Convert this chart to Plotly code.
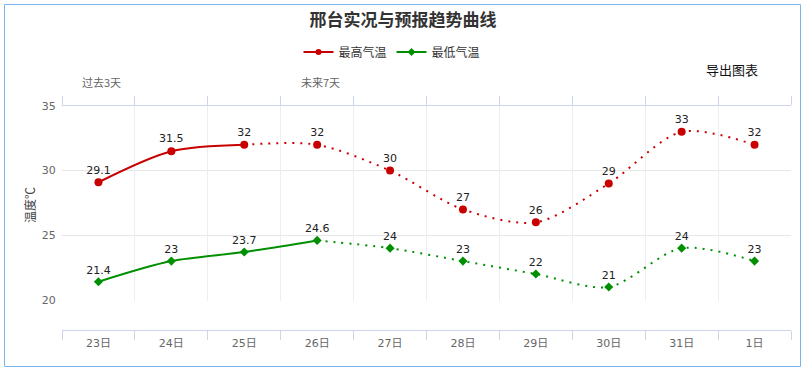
import plotly.graph_objects as go

categories = ["23日", "24日", "25日", "26日", "27日", "28日", "29日", "30日", "31日", "1日"]
high_temp = [29.1, 31.5, 32, 32, 30, 27, 26, 29, 33, 32]
low_temp = [21.4, 23, 23.7, 24.6, 24, 23, 22, 21, 24, 23]
high_obs_count = 3   # 23-25 observed (solid)
low_obs_count = 4    # 23-26 solid
period_labels = ["过去3天", "未来7天"]
period_at = ["23日", "26日"]

RED = "#c80000"
GREEN = "#008f00"
W, H = 806, 370
L, R, T, B = 62, 15, 106, 40
PW, PH = W - L - R, H - T - B

def px(x):
    return (x - L) / PW

def py(y):
    return (H - B - y) / PH

FONT = "DejaVu Sans, Noto Sans CJK SC, sans-serif"
CJK = "Noto Sans CJK SC, sans-serif"
SM = 0.85

fig = go.Figure()

# solid observed parts and dotted forecast parts
fig.add_trace(go.Scatter(x=categories[:high_obs_count], y=high_temp[:high_obs_count],
                         mode="lines", line=dict(color=RED, width=2, shape="spline", smoothing=SM),
                         showlegend=False, hoverinfo="skip"))
fig.add_trace(go.Scatter(x=categories[high_obs_count - 1:], y=high_temp[high_obs_count - 1:],
                         mode="lines", line=dict(color=RED, width=2, shape="spline", smoothing=SM, dash="2px,6px"),
                         showlegend=False, hoverinfo="skip"))
fig.add_trace(go.Scatter(x=categories[:low_obs_count], y=low_temp[:low_obs_count],
                         mode="lines", line=dict(color=GREEN, width=2, shape="spline", smoothing=SM),
                         showlegend=False, hoverinfo="skip"))
fig.add_trace(go.Scatter(x=categories[low_obs_count - 1:], y=low_temp[low_obs_count - 1:],
                         mode="lines", line=dict(color=GREEN, width=2, shape="spline", smoothing=SM, dash="2px,6px"),
                         showlegend=False, hoverinfo="skip"))
# markers + labels
fig.add_trace(go.Scatter(x=categories, y=high_temp, mode="markers+text", text=[str(v) for v in high_temp],
                         textposition="top center", textfont=dict(size=11, color="#222"),
                         marker=dict(color=RED, size=8, symbol="circle"), showlegend=False))
fig.add_trace(go.Scatter(x=categories, y=low_temp, mode="markers+text", text=[str(v) for v in low_temp],
                         textposition="top center", textfont=dict(size=11, color="#222"),
                         marker=dict(color=GREEN, size=7, symbol="diamond"), showlegend=False))
# legend entries
fig.add_trace(go.Scatter(x=[None], y=[None], name="最高气温", mode="lines+markers",
                         line=dict(color=RED, width=2), marker=dict(color=RED, size=6, symbol="circle")))
fig.add_trace(go.Scatter(x=[None], y=[None], name="最低气温", mode="lines+markers",
                         line=dict(color=GREEN, width=2), marker=dict(color=GREEN, size=6, symbol="diamond")))
# invisible trace for top axis
fig.add_trace(go.Scatter(x=categories, y=high_temp, xaxis="x2", mode="markers",
                         marker=dict(opacity=0), showlegend=False, hoverinfo="skip"))

annotations = [
    dict(text="温度℃", x=px(29), y=py(205), xref="paper", yref="paper", showarrow=False,
         xanchor="center", yanchor="middle",
         textangle=-90, font=dict(size=12, color="#444", family=CJK)),
    dict(text="导出图表", x=px(732), y=py(70), xref="paper", yref="paper", showarrow=False,
         xanchor="center", yanchor="middle",
         font=dict(size=13, color="#111", family=CJK)),
]
for lab, cat in zip(period_labels, period_at):
    annotations.append(dict(text=lab, x=cat, y=py(82), xref="x", yref="paper", showarrow=False,
                            xanchor="center", yanchor="middle", xshift=3,
                            font=dict(size=11, color="#666", family=CJK)))

fig.update_layout(
    width=W, height=H,
    margin=dict(l=L, r=R, t=T, b=B, autoexpand=False),
    paper_bgcolor="white", plot_bgcolor="white",
    font=dict(family=FONT, color="#666", size=11),
    title=dict(text="<b>邢台实况与预报趋势曲线</b>", x=403 / W, xanchor="center", xref="container",
               y=1 - 20 / H, yanchor="middle", yref="container", font=dict(size=17, color="#333", family=CJK)),
    legend=dict(orientation="h", xref="container", yref="container", x=392 / W, xanchor="center",
                y=1 - 52 / H, yanchor="middle",
                font=dict(size=12, color="#333", family=CJK), itemwidth=30, tracegroupgap=0),
    xaxis=dict(type="category", categoryorder="array", categoryarray=categories,
               range=[-0.5, 9.5], anchor="free", position=0, showgrid=False,
               showline=True, linecolor="#ccd6eb", linewidth=1,
               ticks="outside", tickson="boundaries", ticklen=9, tickcolor="#ccd6eb",
               tickfont=dict(size=11, color="#666"), ticklabelstandoff=3, zeroline=False),
    xaxis2=dict(type="category", categoryorder="array", categoryarray=categories,
                range=[-0.5, 9.5], overlaying="x", side="top", anchor="y", matches="x",
                showgrid=True, gridcolor="#eceef3", showline=True, linecolor="#ccd6eb",
                ticks="outside", tickson="boundaries", ticklen=9, tickcolor="#ccd6eb",
                showticklabels=False, zeroline=False),
    yaxis=dict(range=[19.95, 35], domain=[29.5 / PH, 1], tickvals=[20, 25, 30, 35],
               showgrid=True, gridcolor="#e6e6e6", showline=False, zeroline=False,
               ticks="outside", ticklen=3, tickcolor="rgba(0,0,0,0)",
               tickfont=dict(size=11, color="#666")),
    annotations=annotations,
    shapes=[dict(type="rect", xref="paper", yref="paper", x0=px(4.5), x1=px(800.5),
                 y0=py(366.5), y1=py(4.5), line=dict(color="#7cb5ec", width=1), layer="below")],
)

fig.write_html("out.html", config={"displayModeBar": False},
               post_script="document.body.style.margin='0';document.body.style.overflow='hidden';")
